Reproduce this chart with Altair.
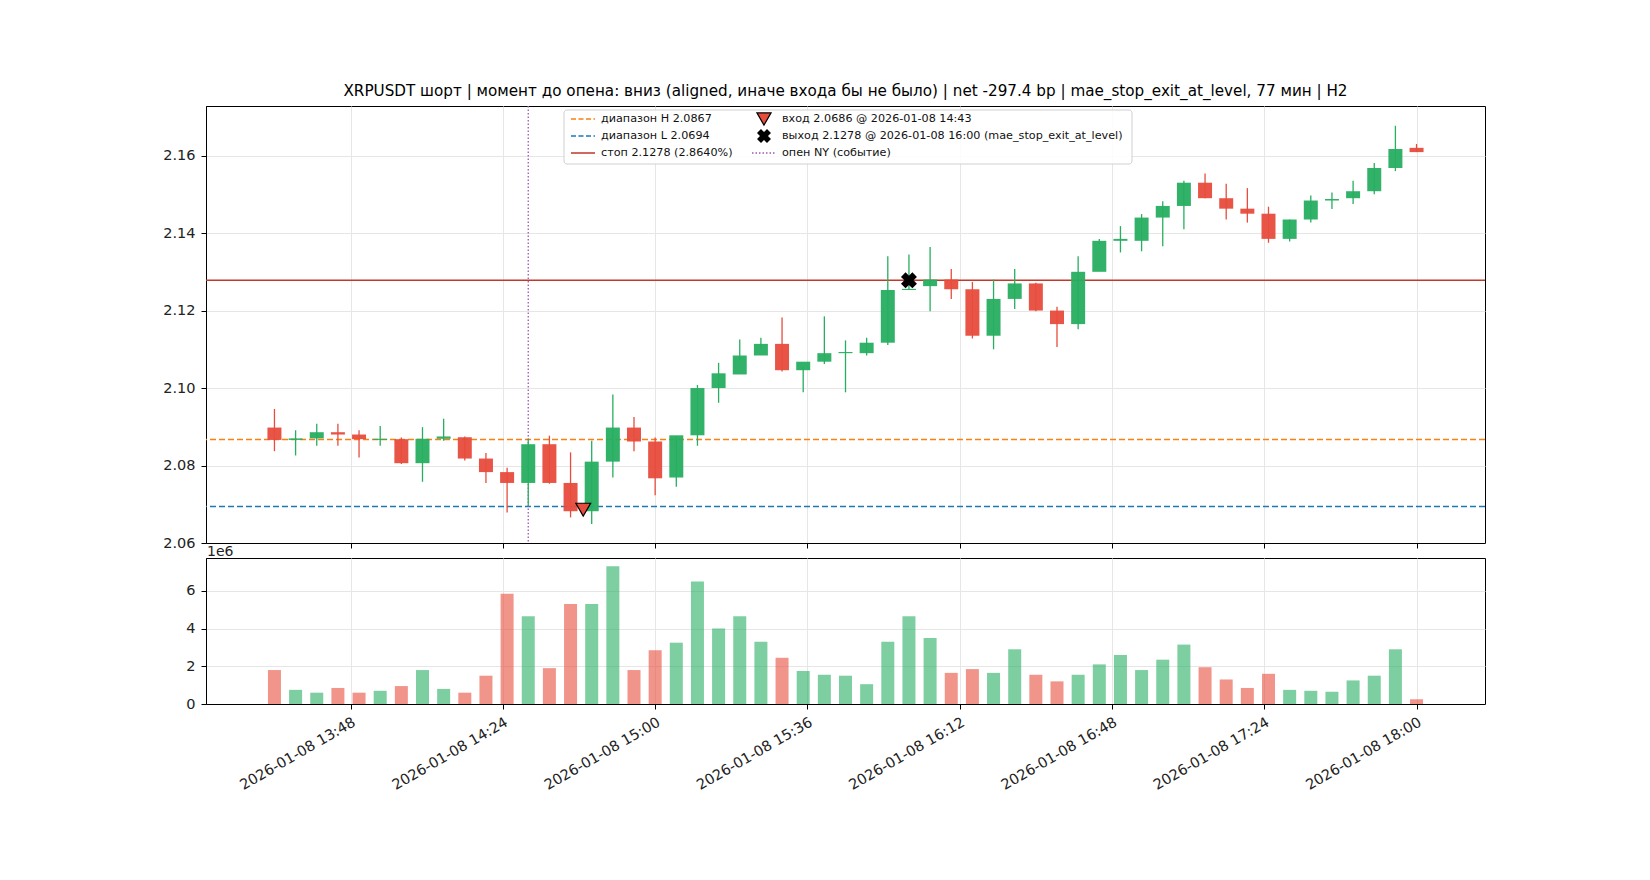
import altair as alt
import pandas as pd

# 5-minute candles, 13:30 .. 18:00
times = pd.date_range("2026-01-08 13:30", "2026-01-08 18:00", freq="5min").strftime("%Y-%m-%dT%H:%M:%S").tolist()

# pixel readings converted to prices below are estimates from the picture
opens = [2.0898, 2.0866, 2.0870, 2.0886, 2.0880, 2.0866, 2.0868, 2.0806, 2.0869, 2.0873, 2.0818,
         2.0783, 2.0755, 2.0855, 2.0755, 2.0682, 2.0810, 2.0898, 2.0862, 2.0769, 2.0878,
         2.1000, 2.1035, 2.1084, 2.1114, 2.1046, 2.1068, 2.1090, 2.1090, 2.1117, 2.1253,
         2.1263, 2.1280, 2.1255, 2.1135, 2.1230, 2.1270, 2.1200, 2.1165, 2.1300, 2.1380,
         2.1380, 2.1440, 2.1470, 2.1530, 2.1490, 2.1463, 2.1450, 2.1385, 2.1435, 2.1484,
         2.1490, 2.1508, 2.1568, 2.1620]
closes = [2.0866, 2.0870, 2.0886, 2.0880, 2.0868, 2.0869, 2.0806, 2.0869, 2.0875, 2.0818, 2.0783,
          2.0755, 2.0855, 2.0755, 2.0682, 2.0810, 2.0898, 2.0862, 2.0767, 2.0878, 2.1000,
          2.1038, 2.1084, 2.1114, 2.1046, 2.1068, 2.1090, 2.1093, 2.1117, 2.1253, 2.1256,
          2.1280, 2.1255, 2.1135, 2.1230, 2.1270, 2.1200, 2.1165, 2.1300, 2.1380, 2.1385,
          2.1440, 2.1470, 2.1530, 2.1490, 2.1463, 2.1450, 2.1385, 2.1435, 2.1484, 2.1488,
          2.1508, 2.1568, 2.1617, 2.1609]
highs = [2.0946, 2.0891, 2.0908, 2.0908, 2.0891, 2.0902, 2.0872, 2.0899, 2.0921, 2.0875, 2.0832,
         2.0794, 2.0869, 2.0877, 2.0834, 2.0864, 2.0983, 2.0925, 2.0872, 2.0875, 2.1008,
         2.1065, 2.1125, 2.1130, 2.1182, 2.1054, 2.1185, 2.1123, 2.1130, 2.1340, 2.1345,
         2.1364, 2.1307, 2.1274, 2.1280, 2.1307, 2.1272, 2.1210, 2.1340, 2.1385, 2.1418,
         2.1449, 2.1482, 2.1535, 2.1554, 2.1527, 2.1516, 2.1468, 2.1435, 2.1497, 2.1505,
         2.1535, 2.1581, 2.1677, 2.1630]
lows = [2.0837, 2.0826, 2.0851, 2.0851, 2.0821, 2.0851, 2.0804, 2.0758, 2.0864, 2.0813, 2.0755,
        2.0679, 2.0696, 2.0753, 2.0666, 2.0649, 2.0769, 2.0837, 2.0723, 2.0745, 2.0851,
        2.0962, 2.1073, 2.1100, 2.1043, 2.0989, 2.1062, 2.0989, 2.1084, 2.1111, 2.1253,
        2.1198, 2.1230, 2.1128, 2.1100, 2.1204, 2.1198, 2.1106, 2.1152, 2.1372, 2.1350,
        2.1353, 2.1366, 2.1410, 2.1490, 2.1435, 2.1427, 2.1375, 2.1378, 2.1427, 2.1462,
        2.1475, 2.1500, 2.1560, 2.1609]
volumes = [1.8, 0.75, 0.6, 0.85, 0.6, 0.7, 0.95, 1.8, 0.8, 0.6, 1.5,
           5.85, 4.65, 1.9, 5.3, 5.3, 7.3, 1.8, 2.85, 3.25, 6.5,
           4.0, 4.65, 3.3, 2.45, 1.75, 1.55, 1.5, 1.05, 3.3, 4.65,
           3.5, 1.65, 1.85, 1.65, 2.9, 1.55, 1.2, 1.55, 2.1, 2.6,
           1.8, 2.35, 3.15, 1.95, 1.3, 0.85, 1.6, 0.75, 0.7, 0.65,
           1.25, 1.5, 2.9, 0.25]

range_high = 2.0867
range_low = 2.0694
stop = 2.1278
entry_time, entry_price = "2026-01-08T14:43:00", 2.0686
exit_time, exit_price = "2026-01-08T16:00:00", 2.1278
ny_open = "2026-01-08T14:30:00"

tick_times = ["13:48", "14:24", "15:00", "15:36", "16:12", "16:48", "17:24", "18:00"]

GREEN = "#27ae60"
RED = "#e74c3c"
FONT = "DejaVu Sans"

df = pd.DataFrame({"t": times, "open": opens, "close": closes, "high": highs,
                   "low": lows, "vol": volumes})
df["dir"] = ["up" if c >= o else "down" for o, c in zip(opens, closes)]

W, H1, H2 = 1279, 437, 146

tick_vals = [alt.DateTime(year=2026, month=1, date=8, hours=int(s[:2]), minutes=int(s[3:]))
             for s in tick_times]
x_scale = alt.Scale(domain=[alt.DateTime(year=2026, month=1, date=8, hours=13, minutes=15),
                            alt.DateTime(year=2026, month=1, date=8, hours=18, minutes=15)])
color = alt.Color("dir:N", scale=alt.Scale(domain=["up", "down"], range=[GREEN, RED]), legend=None)

x_top = alt.X("t:T", scale=x_scale, title=None,
              axis=alt.Axis(values=tick_vals, labels=False, grid=True))
y_top = alt.Scale(domain=[2.06, 2.1728], nice=False, zero=False)

base = alt.Chart(df)
wicks = base.mark_rule(strokeWidth=1.3).encode(
    x=x_top, y=alt.Y("low:Q", scale=y_top, title=None,
                     axis=alt.Axis(values=[2.06, 2.08, 2.10, 2.12, 2.14, 2.16], format=".2f")),
    y2="high:Q", color=color)
bodies = base.mark_bar(size=14, opacity=0.95).encode(x="t:T", y="open:Q", y2="close:Q", color=color)

levels = pd.DataFrame({"p": [range_high, range_low, stop],
                       "c": ["#ff7f0e", "#1f77b4", "#c0392b"],
                       "d": ["dash", "dash", "solid"]})
hlines = alt.Chart(levels).mark_rule(strokeWidth=1.5).encode(
    y="p:Q",
    color=alt.Color("c:N", scale=None),
    strokeDash=alt.StrokeDash("d:N", scale=alt.Scale(domain=["dash", "solid"], range=[[6, 3], [1, 0]]), legend=None))

ny = alt.Chart(pd.DataFrame({"t": [ny_open]})).mark_rule(
    color="#9b59b6", strokeDash=[1.5, 2], strokeWidth=1.3).encode(x="t:T")

entry = alt.Chart(pd.DataFrame({"t": [entry_time], "p": [entry_price]})).mark_point(
    shape="triangle-down", filled=True, fill=RED, stroke="black", strokeWidth=1.2,
    size=220, opacity=1).encode(x="t:T", y="p:Q")
exitm = alt.Chart(pd.DataFrame({"t": [exit_time], "p": [exit_price]})).mark_point(
    shape="cross", angle=45, filled=True, color="black", size=260, opacity=1).encode(x="t:T", y="p:Q")

# legend box drawn inside the plot
one = pd.DataFrame({"a": [0]})
LX, LY = 358, 4
leg = [alt.Chart(one).mark_rect(fill="white", stroke="#cccccc", cornerRadius=3, opacity=0.9).encode(
    x=alt.value(LX), x2=alt.value(LX + 568), y=alt.value(LY), y2=alt.value(LY + 54))]
rows = [13, 30, 47]
for (yy, col, dash) in zip(rows, ["#ff7f0e", "#1f77b4", "#c0392b"], [[5, 2.5], [5, 2.5], [1, 0]]):
    leg.append(alt.Chart(one).mark_rule(color=col, strokeDash=dash, strokeWidth=1.5).encode(
        x=alt.value(LX + 7), x2=alt.value(LX + 31), y=alt.value(yy)))
leg.append(alt.Chart(one).mark_rule(color="#9b59b6", strokeDash=[1.5, 2], strokeWidth=1.3).encode(
    x=alt.value(LX + 188), x2=alt.value(LX + 212), y=alt.value(47)))
leg.append(alt.Chart(one).mark_point(shape="triangle-down", filled=True, fill=RED, stroke="black",
                                     strokeWidth=1.2, size=200, opacity=1).encode(
    x=alt.value(LX + 200), y=alt.value(13)))
leg.append(alt.Chart(one).mark_point(shape="cross", angle=45, filled=True, color="black",
                                     size=200, opacity=1).encode(
    x=alt.value(LX + 200), y=alt.value(30)))
texts = [(LX + 37, 13, "диапазон H 2.0867"), (LX + 37, 30, "диапазон L 2.0694"),
         (LX + 37, 47, "стоп 2.1278 (2.8640%)"), (LX + 218, 13, "вход 2.0686 @ 2026-01-08 14:43"),
         (LX + 218, 30, "выход 2.1278 @ 2026-01-08 16:00 (mae_stop_exit_at_level)"),
         (LX + 218, 47, "опен NY (событие)")]
for (xx, yy, s) in texts:
    leg.append(alt.Chart(one).mark_text(text=s, align="left", baseline="middle", fontSize=11.2,
                                        font=FONT, color="#111").encode(
        x=alt.value(xx), y=alt.value(yy)))

top = alt.layer(hlines, ny, wicks, bodies, entry, exitm, *leg).properties(
    width=W, height=H1,
    title=alt.TitleParams(
        "XRPUSDT шорт | момент до опена: вниз (aligned, иначе входа бы не было) | net -297.4 bp | mae_stop_exit_at_level, 77 мин | H2",
        fontSize=15.2, fontWeight="normal", font=FONT, offset=6))

x_bot = alt.X("t:T", scale=x_scale, title=None,
              axis=alt.Axis(values=tick_vals, format="%Y-%m-%d %H:%M", labelAngle=-30,
                            labelAlign="right", labelBaseline="top", grid=True))
vbars = alt.Chart(df).mark_bar(size=13, opacity=0.6).encode(
    x=x_bot,
    y=alt.Y("vol:Q", title=None, scale=alt.Scale(domain=[0, 7.74], nice=False),
            axis=alt.Axis(values=[0, 2, 4, 6], format="d")),
    color=color)
exp_label = alt.Chart(one).mark_text(text="1e6", align="left", baseline="bottom", fontSize=14,
                                     font=FONT, color="#222").encode(x=alt.value(1), y=alt.value(1))
bottom = alt.layer(vbars, exp_label).properties(width=W, height=H2)

chart = alt.vconcat(top, bottom, spacing=-6).properties(
    padding={"left": 154, "top": 75, "right": 10, "bottom": 10}
).configure_view(stroke="black", strokeWidth=1).configure_axis(
    labelFont=FONT, labelFontSize=14.5, labelColor="#222", tickColor="black", domainColor="black",
    gridColor="#e6e6e6", tickSize=5, labelPadding=6
).configure_title(anchor="middle", color="black")

chart.save("out.html", embed_options={"renderer": "svg", "actions": False})
